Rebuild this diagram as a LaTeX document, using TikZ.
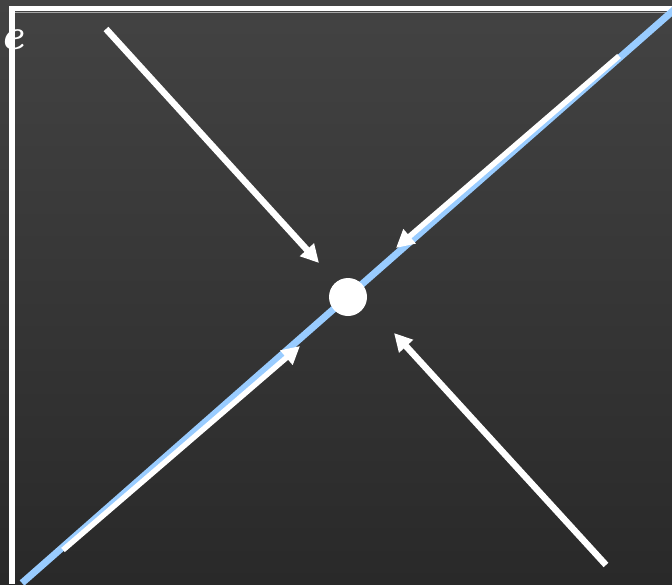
\documentclass[tikz,border=0pt]{standalone}
\usetikzlibrary{arrows.meta}
\definecolor{bgtop}{HTML}{434343}
\definecolor{bgbot}{HTML}{292929}
\definecolor{skyline}{HTML}{99CCFF}
\begin{document}
\begin{tikzpicture}[x=1pt,y=-1pt,
  flow/.style={draw=white,line width=6.5pt,-{Triangle[length=18pt,width=18pt]}},
  frameline/.style={draw=white,line width=5.5pt}]
\useasboundingbox (0,0) rectangle (672,584);
\shade[top color=bgtop,bottom color=bgbot] (0,0) rectangle (672,584);
\begin{scope}
\clip (0,0) rectangle (672,584);
% frame
\draw[gray!70,line width=1pt] (12,12) -- (672,12);
\draw[frameline] (12,584) -- (12,8.5) -- (672,8.5);
% glyph
\node[text=white,font=\fontsize{44}{44}\selectfont\bfseries\itshape,anchor=west,inner sep=0pt] (glyph) at (0.5,40) {e};
% blue line
\coordinate (bl) at (22,583);
\coordinate (tr) at (675,9);
\draw[skyline,line width=7pt] (bl) -- (tr);
% center point
\node[circle,fill=white,minimum size=38pt,inner sep=0pt] (c) at (348,297) {};
% arrows
\coordinate (a1s) at (106,29);
\coordinate (a1e) at (319,263);
\coordinate (a2s) at (620,57);
\coordinate (a2e) at (397,249);
\coordinate (a3s) at (62,549);
\coordinate (a3e) at (299,345);
\coordinate (a4s) at (606,565);
\coordinate (a4e) at (394,333);
\draw[flow] (a1s) -- (a1e);
\draw[flow,line width=5.5pt] ([shift={(-1,-1)}]a2s) -- ([shift={(-1,-1)}]a2e);
\draw[flow,line width=5.5pt] ([shift={(1,1)}]a3s) -- ([shift={(1,1)}]a3e);
\draw[flow] (a4s) -- (a4e);
\end{scope}
\end{tikzpicture}
\end{document}
